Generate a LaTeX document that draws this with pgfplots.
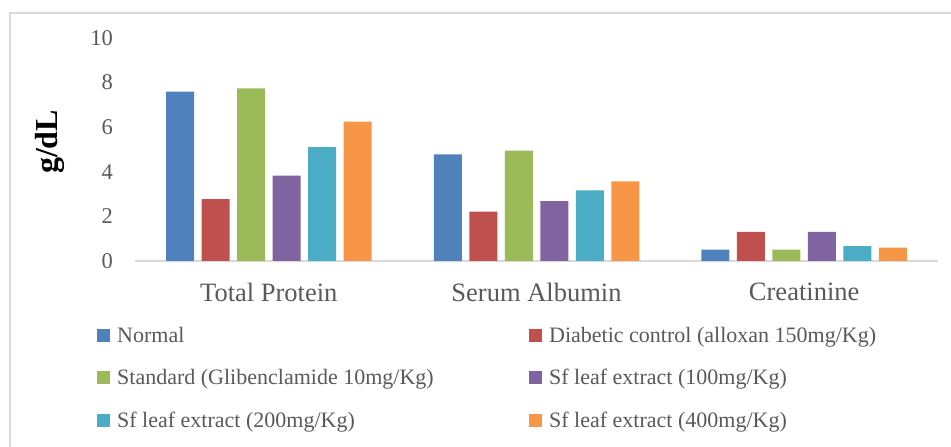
\documentclass[border=0pt]{standalone}
\usepackage{fontspec}
\setmainfont{Liberation Serif}
\usepackage{pgfplots}
\pgfplotsset{compat=1.18}

\definecolor{cNormal}{HTML}{4F81BD}
\definecolor{cDiabetic}{HTML}{C0504D}
\definecolor{cStandard}{HTML}{9BBB59}
\definecolor{cSfA}{HTML}{8064A2}
\definecolor{cSfB}{HTML}{4BACC6}
\definecolor{cSfC}{HTML}{F79646}
\definecolor{tickgray}{HTML}{595959}
\definecolor{axisgray}{HTML}{D9D9D9}
\definecolor{framegray}{HTML}{D9D9D9}

\begin{document}
\begin{tikzpicture}
\path[use as bounding box] (0,0) rectangle (951bp,447bp);
% chart area frame
\draw[framegray, line width=2bp] (10bp,-5bp) -- (10bp,434bp) -- (960bp,434bp);
\begin{axis}[
  at={(135bp,186bp)}, anchor=south west,
  scale only axis, width=803bp, height=223bp,
  xmin=-0.5, xmax=2.5, ymin=0, ymax=10,
  ybar=7.5bp, bar width=28bp,
  xtick={0,1,2},
  xticklabels={Total Protein, Serum Albumin, Creatinine},
  ytick={0,2,...,10},
  axis x line*=bottom, axis y line*=left,
  x axis line style={draw=axisgray, line width=1.5bp, -},
  y axis line style={draw=none},
  major tick length=0pt,
  tick style={draw=none},
  /pgf/number format/assume math mode=true,
  yticklabel style={font=\fontsize{22.5bp}{27bp}\selectfont, text=tickgray,
    inner sep=0pt, anchor=east, xshift=-22bp},
  xticklabel style={font=\fontsize{26.5bp}{31bp}\selectfont, text=tickgray,
    inner sep=0pt, anchor=north, yshift=-21.5bp},
  ylabel={g/dL},
  ylabel style={font=\fontsize{32bp}{36bp}\selectfont\bfseries,
    at={(rel axis cs:-0.106,0.534)}, anchor=center},
  legend columns=2,
  legend cell align=left,
  legend image code/.code={\fill[#1] (0bp,-2bp) rectangle (13bp,11bp);},
  legend style={at={(rel axis cs:-0.04732,-0.2567)}, anchor=north west,
    draw=none, fill=none, inner sep=0pt,
    font=\fontsize{22bp}{26bp}\selectfont, text=tickgray,
    nodes={inner sep=0pt, minimum height=42.5bp, text height=0.7em, text depth=0.2em},
    /tikz/every odd column/.style={column sep=7bp},
    /tikz/every even column/.style={column sep=0pt}},
]
\addplot[fill=cNormal, draw=none]   coordinates {(0,7.59) (1,4.78) (2,0.51)};
\addplot[fill=cDiabetic, draw=none] coordinates {(0,2.77) (1,2.21) (2,1.31)};
\addplot[fill=cStandard, draw=none] coordinates {(0,7.74) (1,4.95) (2,0.51)};
\addplot[fill=cSfA, draw=none]      coordinates {(0,3.83) (1,2.69) (2,1.31)};
\addplot[fill=cSfB, draw=none]      coordinates {(0,5.11) (1,3.17) (2,0.67)};
\addplot[fill=cSfC, draw=none]      coordinates {(0,6.25) (1,3.57) (2,0.60)};
\addlegendentry{\makebox[412bp][l]{Normal}}
\addlegendentry{Diabetic control (alloxan 150mg/Kg)}
\addlegendentry{\makebox[412bp][l]{Standard (Glibenclamide 10mg/Kg)}}
\addlegendentry{Sf leaf extract (100mg/Kg)}
\addlegendentry{\makebox[412bp][l]{Sf leaf extract (200mg/Kg)}}
\addlegendentry{Sf leaf extract (400mg/Kg)}
\end{axis}
\end{tikzpicture}
\end{document}
